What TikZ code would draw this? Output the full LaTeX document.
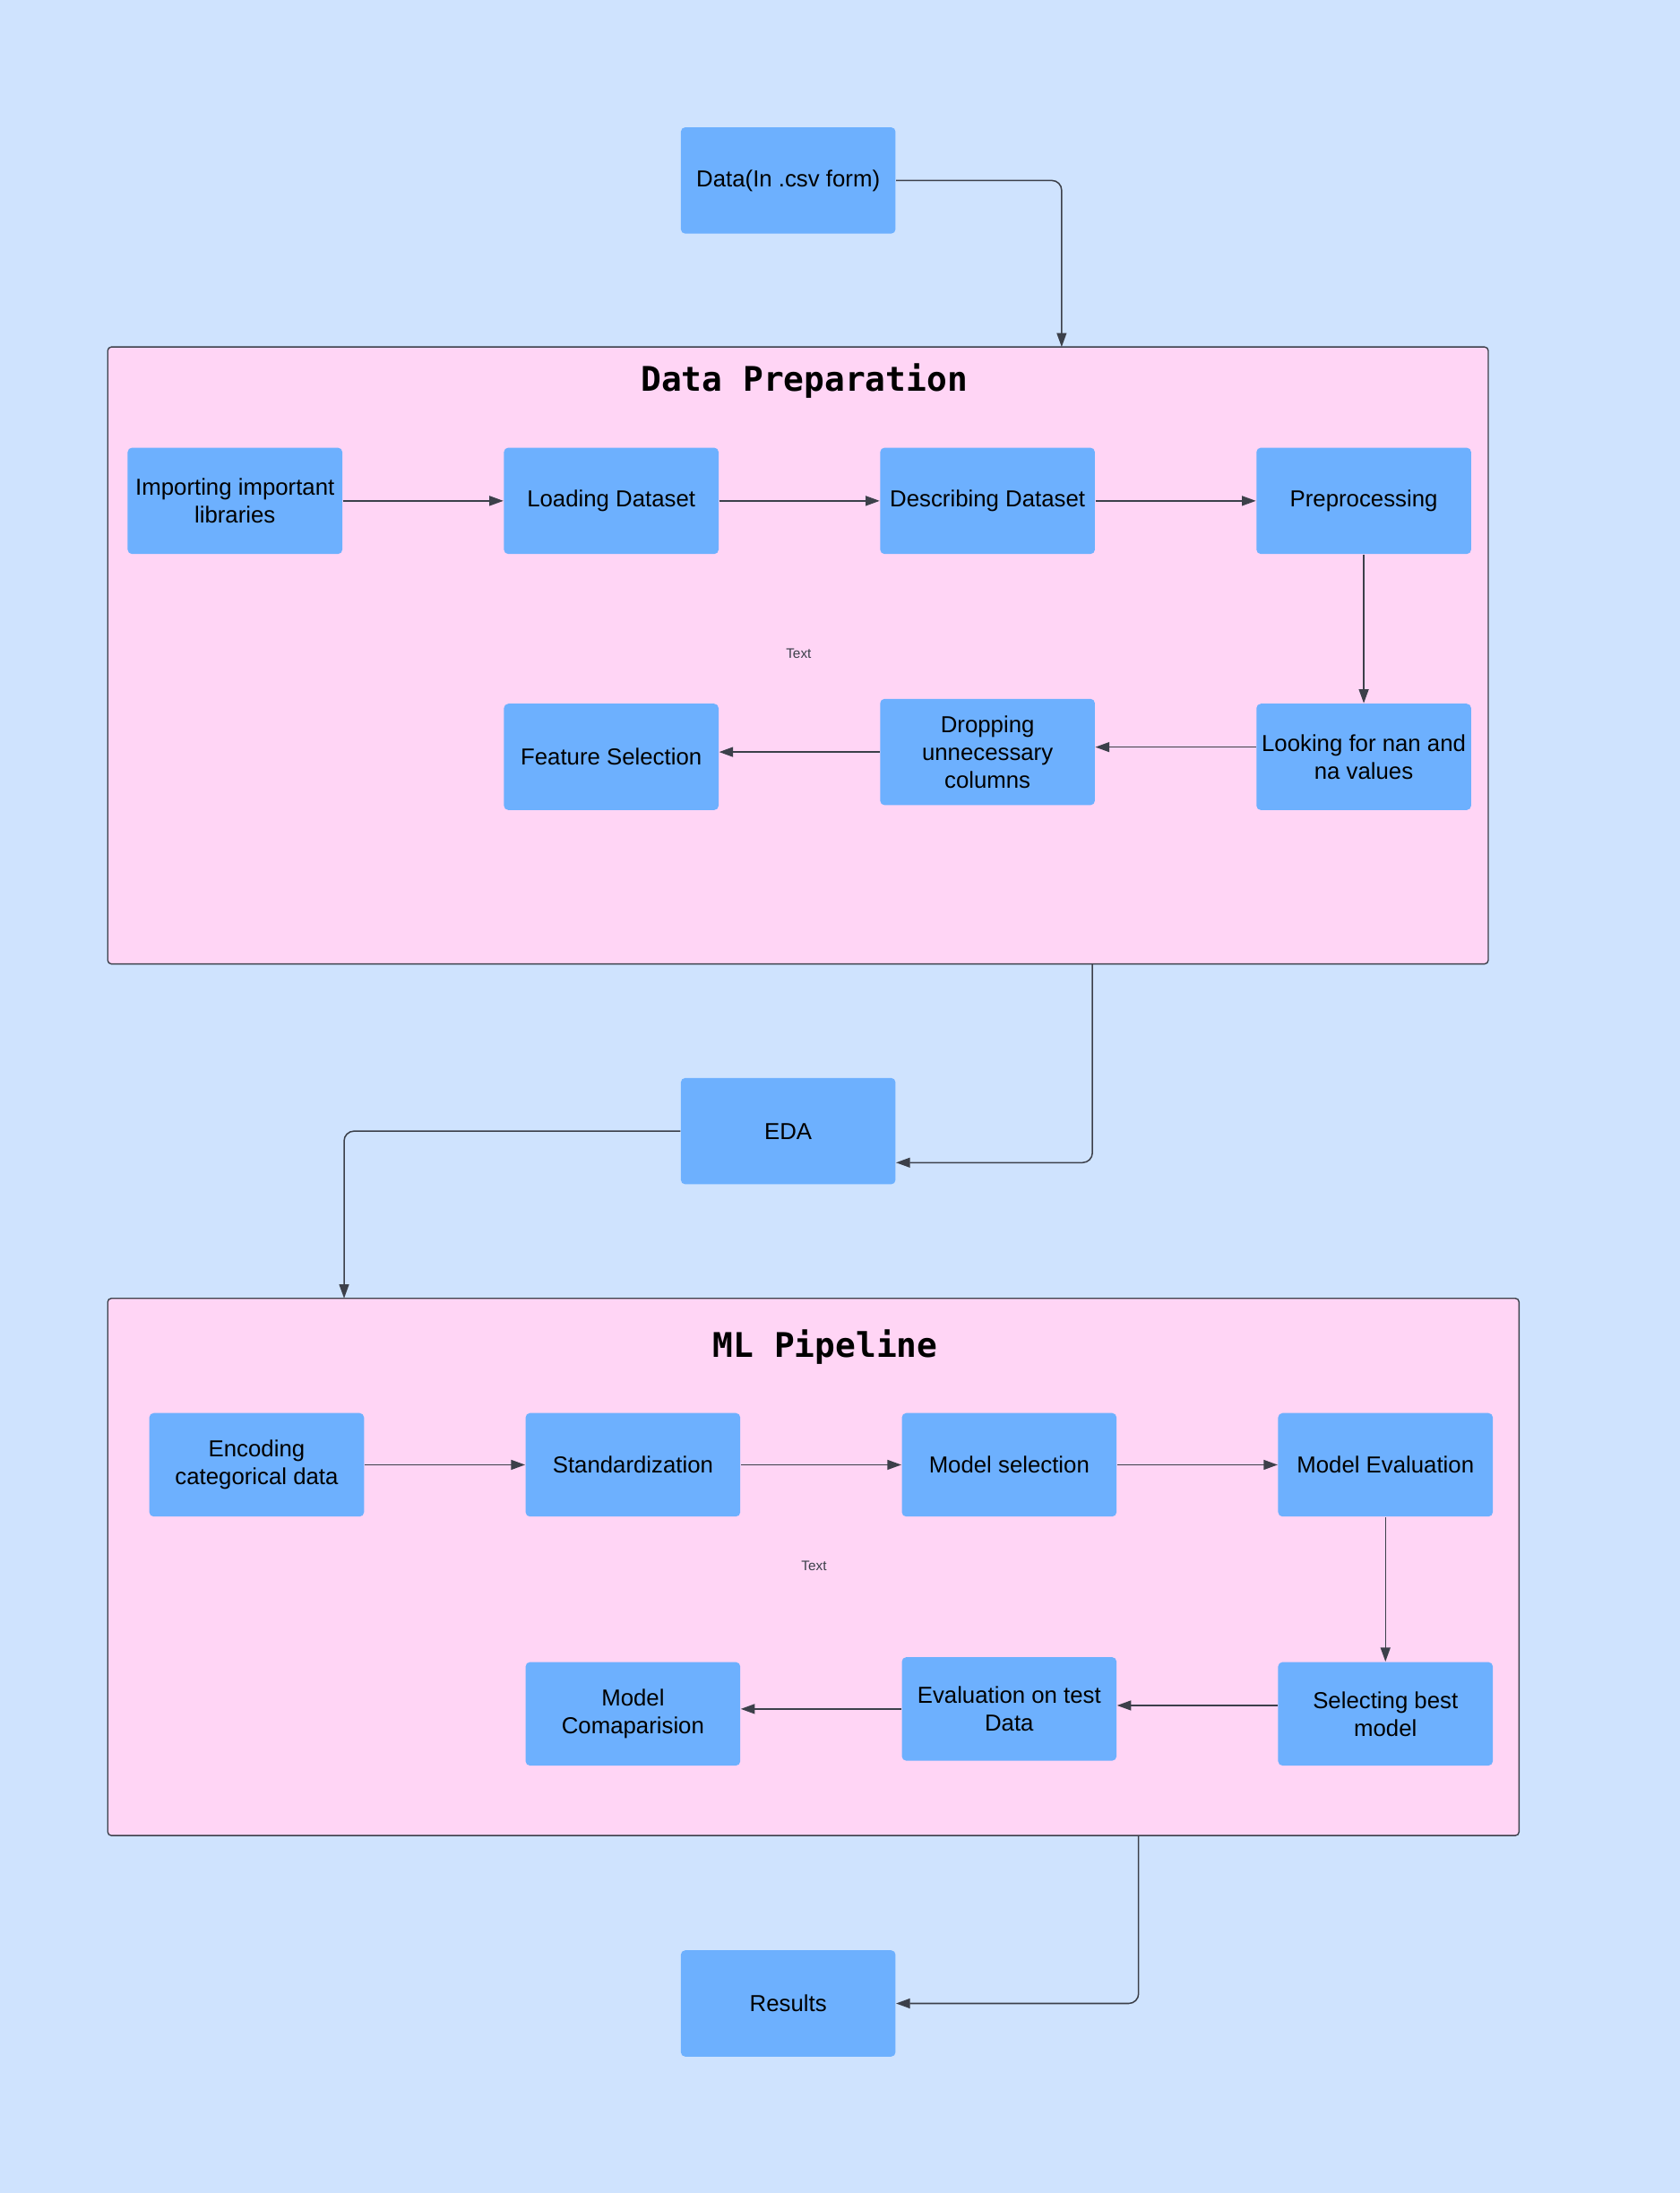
\documentclass[tikz,border=0pt]{standalone}
\usepackage{fontspec}
\setmainfont{Liberation Sans}
\newfontfamily\titlefont{DejaVu Sans Mono}
\usepackage{tikz}
\usetikzlibrary{positioning,arrows.meta}

\definecolor{bgblue}{HTML}{CFE3FE}
\definecolor{boxblue}{HTML}{6DB0FE}
\definecolor{panelpink}{HTML}{FFD5F5}
\definecolor{linegray}{HTML}{3C404A}

\tikzset{
	stepbox/.style={rectangle, fill=boxblue, rounded corners=1.8pt, minimum width=3.07cm, minimum height=1.52cm, inner xsep=1pt, align=center, font=\fontsize{9.4}{11.3}\selectfont},
	panel/.style={rectangle, fill=panelpink, draw=linegray, line width=0.5pt, rounded corners=1.5pt},
	paneltitle/.style={font=\titlefont\bfseries\fontsize{13.8}{16}\selectfont},
	smalltext/.style={font=\fontsize{5.6}{7}\selectfont, text=linegray},
	arr/.style={-{Triangle[length=2mm,width=1.4mm]}, line width=0.55pt, draw=linegray}
}

\begin{document}
\begin{tikzpicture}
				\fill[bgblue] (0,0) rectangle (24.02,-31.35);
				\useasboundingbox (0,0) rectangle (24.02,-31.35);

				\node (data) [stepbox] at (11.27,-2.58) {Data(In .csv form)};

				% Data Preparation
				\node (dp) [panel, minimum width=19.74cm, minimum height=8.82cm] at (11.41,-9.37) {};
				\node (dptitle) [paneltitle] at (11.5,-5.44) {Data Preparation};
				\node (dptext) [smalltext] at (11.42,-9.34) {Text};
				\node (imp) [stepbox] at (3.36,-7.16) {Importing important\\libraries};
				\node (load) [stepbox, right of=imp, node distance=5.38cm] {Loading Dataset};
				\node (desc) [stepbox, right of=load, node distance=5.38cm] {Describing Dataset};
				\node (prep) [stepbox, right of=desc, node distance=5.38cm] {Preprocessing};
				\node (look) [stepbox, below of=prep, node distance=3.66cm] {Looking for nan and\\na values};
				\node (drop) [stepbox] at (14.12,-10.75) {Dropping\\unnecessary\\columns};
				\node (feat) [stepbox] at (8.74,-10.82) {Feature Selection};
				\coordinate (dpin) at (15.18,-4.96);
				\coordinate (dpout) at (15.62,-13.78);

				\node (eda) [stepbox] at (11.27,-16.17) {EDA};

				% ML Pipeline
				\node (ml) [panel, minimum width=20.18cm, minimum height=7.68cm] at (11.63,-22.4) {};
				\node (mltitle) [paneltitle] at (11.8,-19.26) {ML Pipeline};
				\node (mltext) [smalltext] at (11.64,-22.38) {Text};
				\node (enc) [stepbox, minimum height=1.48cm] at (3.67,-20.94) {Encoding\\categorical data};
				\node (std) [stepbox, minimum height=1.48cm, right of=enc, node distance=5.38cm] {Standardization};
				\node (msel) [stepbox, minimum height=1.48cm, right of=std, node distance=5.38cm] {Model selection};
				\node (meval) [stepbox, minimum height=1.48cm, right of=msel, node distance=5.38cm] {Model Evaluation};
				\node (sel) [stepbox, minimum height=1.48cm, below of=meval, node distance=3.56cm] {Selecting best\\model};
				\node (evalt) [stepbox, minimum height=1.48cm] at (14.43,-24.43) {Evaluation on test\\Data};
				\node (comp) [stepbox, minimum height=1.48cm] at (9.05,-24.5) {Model\\Comaparision};
				\coordinate (mlin) at (4.92,-18.56);
				\coordinate (mlout) at (16.28,-26.24);

				\node (res) [stepbox] at (11.27,-28.64) {Results};

				% Arrows
				\draw[arr, rounded corners=4pt] (data.east) -| (dpin);
				\draw[arr] (imp) -- (load);
				\draw[arr] (load) -- (desc);
				\draw[arr] (desc) -- (prep);
				\draw[arr] (prep) -- (look);
				\draw[arr] ([yshift=0.14cm]look.west) -- ([yshift=0.14cm]look.west -| drop.east);
				\draw[arr] (drop.west) -- (drop.west -| feat.east);
				\draw[arr, rounded corners=4pt] (dpout) |- ([yshift=-0.45cm]eda.east);
				\draw[arr, rounded corners=4pt] (eda.west) -| (mlin);
				\draw[arr] (enc) -- (std);
				\draw[arr] (std) -- (msel);
				\draw[arr] (msel) -- (meval);
				\draw[arr] (meval) -- (sel);
				\draw[arr] ([yshift=0.12cm]sel.west) -- ([yshift=0.12cm]sel.west -| evalt.east);
				\draw[arr] (evalt.west) -- (evalt.west -| comp.east);
				\draw[arr, rounded corners=4pt] (mlout) |- (res.east);
			\end{tikzpicture}
\end{document}
